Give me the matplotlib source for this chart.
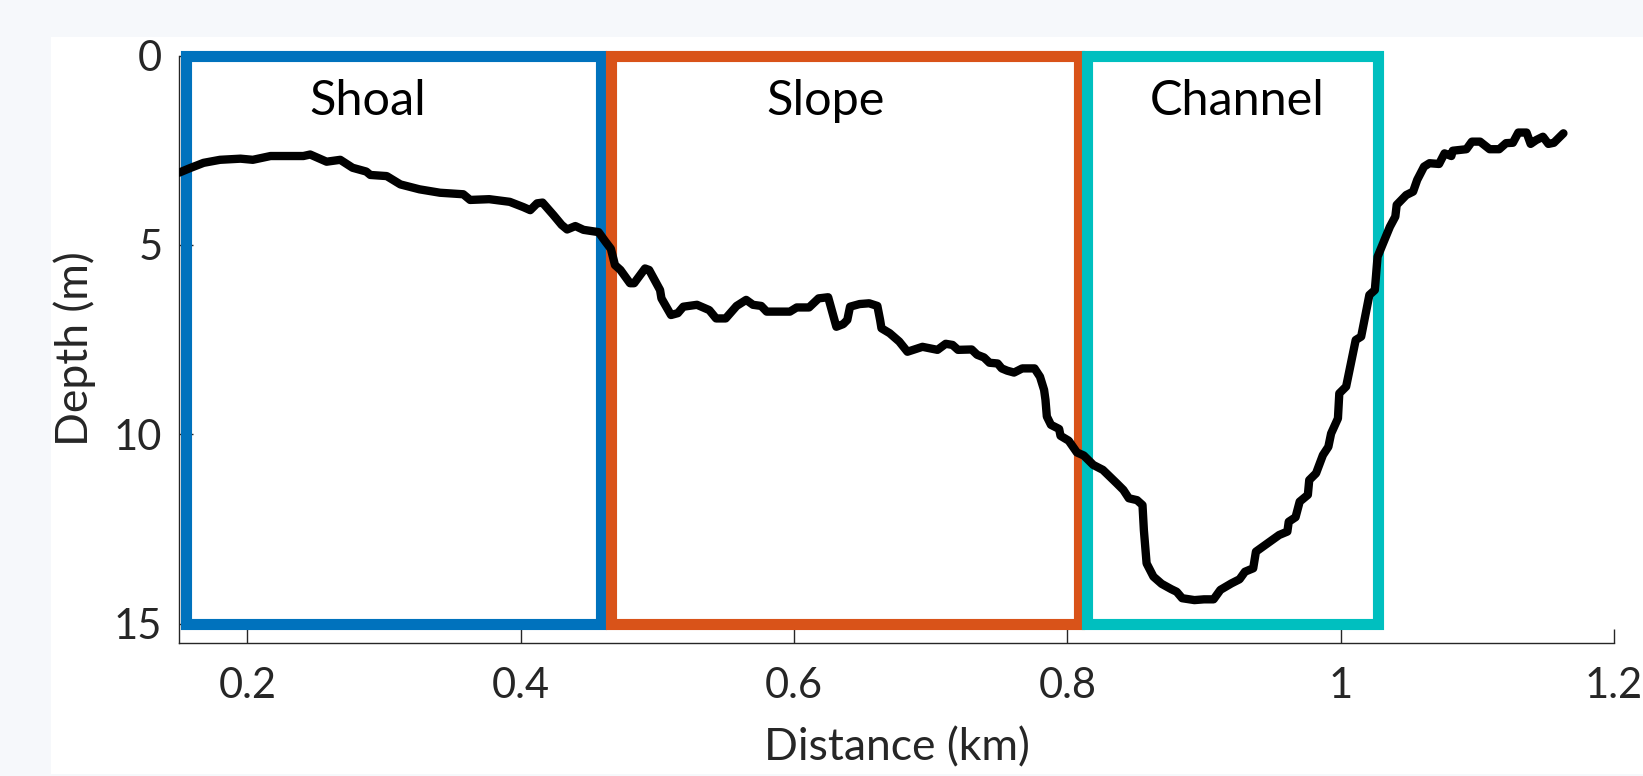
import numpy as np
import matplotlib.pyplot as plt
from matplotlib.patches import Rectangle


# =========================
# 1. 数据
# =========================

distance_km = [
    0.150, 0.158, 0.168, 0.180, 0.195, 0.204, 0.217, 0.241, 0.246, 0.258,
    0.268, 0.277, 0.287, 0.290, 0.302, 0.312, 0.326, 0.341, 0.358, 0.363,
    0.377, 0.392, 0.402, 0.407, 0.412, 0.416, 0.424, 0.430, 0.434, 0.440,
    0.446, 0.457, 0.462, 0.466, 0.469, 0.473, 0.480, 0.483, 0.491, 0.494,
    0.502, 0.503, 0.510, 0.515, 0.519, 0.529, 0.538, 0.543, 0.550, 0.558,
    0.565, 0.570, 0.576, 0.580, 0.597, 0.602, 0.611, 0.618, 0.625, 0.631,
    0.636, 0.639, 0.641, 0.648, 0.655, 0.661, 0.663, 0.664, 0.670, 0.677,
    0.683, 0.694, 0.705, 0.711, 0.716, 0.720, 0.730, 0.734, 0.739, 0.743,
    0.749, 0.752, 0.756, 0.761, 0.767, 0.776, 0.780, 0.783, 0.784, 0.785,
    0.788, 0.794, 0.795, 0.801, 0.807, 0.812, 0.819, 0.826, 0.836, 0.841,
    0.845, 0.851, 0.855, 0.856, 0.858, 0.863, 0.869, 0.876, 0.880, 0.884,
    0.893, 0.900, 0.907, 0.912, 0.920, 0.926, 0.930, 0.936, 0.938, 0.945,
    0.955, 0.961, 0.962, 0.967, 0.970, 0.976, 0.977, 0.982, 0.987, 0.991,
    0.993, 0.998, 0.999, 1.004, 1.011, 1.015, 1.021, 1.025, 1.027, 1.031,
    1.036, 1.040, 1.041, 1.048, 1.053, 1.056, 1.061, 1.065, 1.072, 1.076,
    1.081, 1.082, 1.092, 1.096, 1.102, 1.109, 1.116, 1.121, 1.126, 1.130,
    1.136, 1.139, 1.143, 1.148, 1.152, 1.156, 1.163,
]

depth_m = [
    3.09, 2.97, 2.83, 2.75, 2.72, 2.75, 2.65, 2.65, 2.61, 2.80,
    2.75, 2.96, 3.06, 3.15, 3.18, 3.40, 3.53, 3.62, 3.66, 3.81,
    3.79, 3.86, 4.00, 4.08, 3.90, 3.88, 4.21, 4.47, 4.59, 4.50,
    4.60, 4.66, 4.91, 5.10, 5.53, 5.66, 6.01, 6.01, 5.62, 5.66,
    6.19, 6.41, 6.85, 6.80, 6.63, 6.58, 6.72, 6.94, 6.94, 6.61,
    6.45, 6.58, 6.61, 6.76, 6.76, 6.65, 6.65, 6.41, 6.38, 7.16,
    7.09, 6.98, 6.63, 6.56, 6.54, 6.61, 6.98, 7.20, 7.33, 7.55,
    7.82, 7.69, 7.77, 7.61, 7.64, 7.77, 7.76, 7.90, 7.97, 8.11,
    8.13, 8.26, 8.32, 8.37, 8.26, 8.26, 8.48, 8.83, 9.09, 9.53,
    9.75, 9.86, 10.04, 10.17, 10.48, 10.56, 10.81, 10.94, 11.29, 11.47,
    11.69, 11.74, 11.87, 12.53, 13.41, 13.76, 13.95, 14.09, 14.16, 14.33,
    14.38, 14.36, 14.36, 14.11, 13.94, 13.83, 13.63, 13.54, 13.10, 12.92,
    12.66, 12.57, 12.31, 12.19, 11.78, 11.60, 11.21, 11.03, 10.55, 10.33,
    9.98, 9.58, 8.92, 8.74, 7.51, 7.42, 6.32, 6.19, 5.31, 4.96,
    4.52, 4.25, 3.94, 3.68, 3.59, 3.28, 2.93, 2.84, 2.86, 2.58,
    2.65, 2.51, 2.47, 2.27, 2.27, 2.47, 2.47, 2.31, 2.30, 2.03,
    2.03, 2.33, 2.23, 2.14, 2.33, 2.30, 2.05,
]

# 三个区域：名称、左右边界(km)、上下边界(m)
zone_names = ["Shoal", "Slope", "Channel"]
zone_left = [0.155, 0.466, 0.8145]
zone_right = [0.459, 0.8085, 1.027]
zone_top = 0
zone_bottom = 15
zone_label_x = [0.288, 0.623, 0.924]
zone_label_depth = 1.57

x_ticks = [0.2, 0.4, 0.6, 0.8, 1.0, 1.2]
x_tick_labels = ["0.2", "0.4", "0.6", "0.8", "1", "1.2"]
y_ticks = [0, 5, 10, 15]


# =========================
# 2. 样式
# =========================

ZONE_COLORS = ["#0072BD", "#D95319", "#00BFBF"]
AXIS_COLOR = "#262626"
BG_COLOR = "#F6F8FB"

plt.rcParams["font.family"] = ["Lato", "DejaVu Sans"]


def main():
    fig = plt.figure(figsize=(16.43, 7.76), dpi=100, facecolor=BG_COLOR)

    # 截图里图表本身是白底，四周是浅色背景
    bg = fig.add_axes([51 / 1643, 2 / 776, 1 - 51 / 1643, 737 / 776], zorder=-10)
    bg.set_facecolor("white")
    bg.set_xticks([])
    bg.set_yticks([])
    for s in bg.spines.values():
        s.set_visible(False)

    ax = fig.add_axes([179 / 1643, 1 - 642.5 / 776, 1435 / 1643, 586.8 / 776])
    ax.set_facecolor("none")

    # 区域方框
    for name, x0, x1, color, lx in zip(zone_names, zone_left, zone_right,
                                       ZONE_COLORS, zone_label_x):
        rect = Rectangle((x0, zone_top), x1 - x0, zone_bottom - zone_top,
                         fill=False, edgecolor=color, linewidth=8,
                         joinstyle="miter", clip_on=False, zorder=2)
        ax.add_patch(rect)
        ax.text(lx, zone_label_depth, name, ha="center", va="baseline",
                fontsize=35, color="black", zorder=4)

    # 剖面线
    ax.plot(distance_km, depth_m, color="black", linewidth=6,
            solid_joinstyle="round", solid_capstyle="round", zorder=3)

    ax.set_xlim(0.15, 1.2)
    ax.set_ylim(15.5, 0)

    ax.set_xticks(x_ticks)
    ax.set_xticklabels(x_tick_labels)
    ax.set_yticks(y_ticks)

    ax.tick_params(direction="in", length=10, width=1, color=AXIS_COLOR,
                   labelcolor=AXIS_COLOR, labelsize=30)
    ax.tick_params(axis="x", pad=18)
    ax.tick_params(axis="y", pad=12)

    for side in ["top", "right"]:
        ax.spines[side].set_visible(False)
    for side in ["left", "bottom"]:
        ax.spines[side].set_color(AXIS_COLOR)
        ax.spines[side].set_linewidth(1)

    ax.set_xlabel("Distance (km)", fontsize=32, color=AXIS_COLOR)
    ax.set_ylabel("Depth (m)", fontsize=32, color=AXIS_COLOR)
    ax.xaxis.set_label_coords(0.5, -0.145)
    ax.yaxis.set_label_coords(-0.058, 0.5)

    fig.savefig("out.png", dpi=100, facecolor=fig.get_facecolor())


if __name__ == "__main__":
    main()
